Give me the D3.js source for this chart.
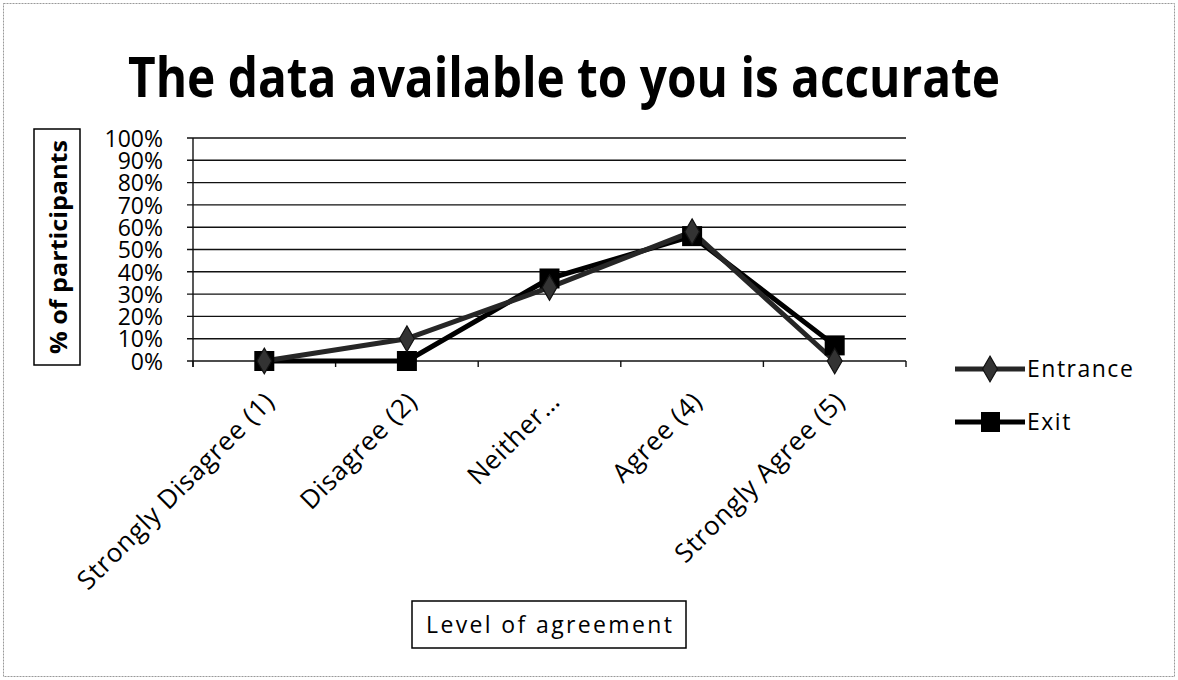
<!DOCTYPE html>
<html>
<head>
<meta charset="utf-8">
<script src="https://cdn.jsdelivr.net/npm/d3@7/dist/d3.min.js"></script>
<style>
  html, body { margin: 0; padding: 0; background: #fff; }
  svg { display: block; font-family: "Open Sans", "Noto Sans", sans-serif; }
</style>
</head>
<body>
<svg id="chart" width="1178" height="680"></svg>
<script>
// Survey responses: share of participants at each agreement level
const categories = ["Strongly Disagree (1)", "Disagree (2)", "Neither\u2026", "Agree (4)", "Strongly Agree (5)"];
const entrance = [0, 0.10, 0.33, 0.58, 0];
const exit = [0, 0, 0.37, 0.56, 0.07];
const seriesNames = ["Entrance", "Exit"];
const yTicks = [0, 0.1, 0.2, 0.3, 0.4, 0.5, 0.6, 0.7, 0.8, 0.9, 1.0];

const FONT = '"Open Sans", "Noto Sans", sans-serif';
const svg = d3.select("#chart");
const W = 1178, H = 680;
const plot = { left: 193, right: 906, top: 138, bottom: 361 };

// frame around the whole chart
svg.append("rect")
  .attr("x", 3.5).attr("y", 3.5).attr("width", W - 7).attr("height", H - 7)
  .attr("fill", "#fff").attr("stroke", "#999").attr("stroke-width", 1)
  .attr("stroke-dasharray", "2,1");

// title
svg.append("text")
  .attr("x", 564).attr("y", 97)
  .attr("text-anchor", "middle")
  .attr("font-size", 56).attr("font-weight", 700)
  .attr("textLength", 872).attr("lengthAdjust", "spacingAndGlyphs")
  .text("The data available to you is accurate");

const x = d3.scaleBand().domain(categories).range([plot.left, plot.right]);
const y = d3.scaleLinear().domain([0, 1]).range([plot.bottom, plot.top]);

// horizontal gridlines
svg.append("g").selectAll("line").data(yTicks).join("line")
  .attr("x1", plot.left - 6).attr("x2", plot.right)
  .attr("y1", d => y(d)).attr("y2", d => y(d))
  .attr("stroke", "#111").attr("stroke-width", 1.4);

// y axis
const yAxis = d3.axisLeft(y).tickValues(yTicks).tickFormat(d3.format(".0%")).tickSize(0).tickPadding(30);
const gy = svg.append("g").attr("transform", `translate(${plot.left},0)`).call(yAxis)
  .attr("font-family", FONT);
gy.select(".domain").remove();
gy.selectAll("text").attr("font-size", 23).attr("fill", "#000").attr("dy", "0.36em");
svg.append("line")
  .attr("x1", plot.left).attr("x2", plot.left)
  .attr("y1", plot.top).attr("y2", plot.bottom + 6)
  .attr("stroke", "#111").attr("stroke-width", 1.4);

// x axis ticks at band boundaries
const bounds = categories.map(c => x(c)).concat([plot.right]);
svg.append("g").selectAll("line").data(bounds).join("line")
  .attr("x1", d => d).attr("x2", d => d)
  .attr("y1", plot.bottom).attr("y2", plot.bottom + 6)
  .attr("stroke", "#111").attr("stroke-width", 1.4);

// rotated category labels
svg.append("g").selectAll("text").data(categories).join("text")
  .attr("transform", d => `translate(${x(d) + x.bandwidth() / 2 + 12},${plot.bottom + 42}) rotate(-45)`)
  .attr("text-anchor", "end")
  .attr("font-size", 26).attr("letter-spacing", 0.8)
  .text(d => d);

// y axis title box
svg.append("rect")
  .attr("x", 34).attr("y", 129).attr("width", 46).attr("height", 236)
  .attr("fill", "#fff").attr("stroke", "#000").attr("stroke-width", 1.5);
svg.append("text")
  .attr("transform", "translate(67,247) rotate(-90)")
  .attr("text-anchor", "middle")
  .attr("font-size", 24).attr("font-weight", 700)
  .attr("textLength", 214).attr("lengthAdjust", "spacingAndGlyphs")
  .text("% of participants");

// x axis title box
svg.append("rect")
  .attr("x", 412).attr("y", 601).attr("width", 274).attr("height", 47)
  .attr("fill", "#fff").attr("stroke", "#000").attr("stroke-width", 1.5);
svg.append("text")
  .attr("x", 549).attr("y", 633)
  .attr("text-anchor", "middle")
  .attr("font-size", 23)
  .attr("textLength", 246).attr("lengthAdjust", "spacing")
  .text("Level of agreement");

const cx = c => x(c) + x.bandwidth() / 2;
const line = d3.line().x((d, i) => cx(categories[i])).y(d => y(d));

const colors = { Entrance: "#262626", Exit: "#000" };
const diamond = d3.symbol().type(d3.symbolDiamond).size(190);

// Exit series
svg.append("path").datum(exit)
  .attr("d", line).attr("fill", "none")
  .attr("stroke", colors.Exit).attr("stroke-width", 5).attr("stroke-linejoin", "round");
// Entrance series
svg.append("path").datum(entrance)
  .attr("d", line).attr("fill", "none")
  .attr("stroke", colors.Entrance).attr("stroke-width", 5).attr("stroke-linejoin", "round");

svg.append("g").selectAll("rect").data(exit).join("rect")
  .attr("x", (d, i) => cx(categories[i]) - 10).attr("y", d => y(d) - 10)
  .attr("width", 20).attr("height", 20).attr("fill", colors.Exit);

svg.append("g").selectAll("path").data(entrance).join("path")
  .attr("transform", (d, i) => `translate(${cx(categories[i])},${y(d)})`)
  .attr("d", diamond).attr("fill", "#333").attr("stroke", "#111").attr("stroke-width", 1.2);

// legend
const legend = svg.append("g");
const legendY = [369, 422];
seriesNames.forEach((name, i) => {
  const ly = legendY[i];
  legend.append("line")
    .attr("x1", 955).attr("x2", 1025).attr("y1", ly).attr("y2", ly)
    .attr("stroke", colors[name]).attr("stroke-width", 5);
  if (name === "Entrance") {
    legend.append("path").attr("transform", `translate(990,${ly})`)
      .attr("d", diamond).attr("fill", "#333").attr("stroke", "#111").attr("stroke-width", 1.2);
  } else {
    legend.append("rect").attr("x", 981).attr("y", ly - 10).attr("width", 19).attr("height", 20).attr("fill", colors.Exit);
  }
  legend.append("text")
    .attr("x", 1027).attr("y", ly + 8)
    .attr("font-size", 23).attr("letter-spacing", 1.5)
    .text(name);
});
</script>
</body>
</html>
